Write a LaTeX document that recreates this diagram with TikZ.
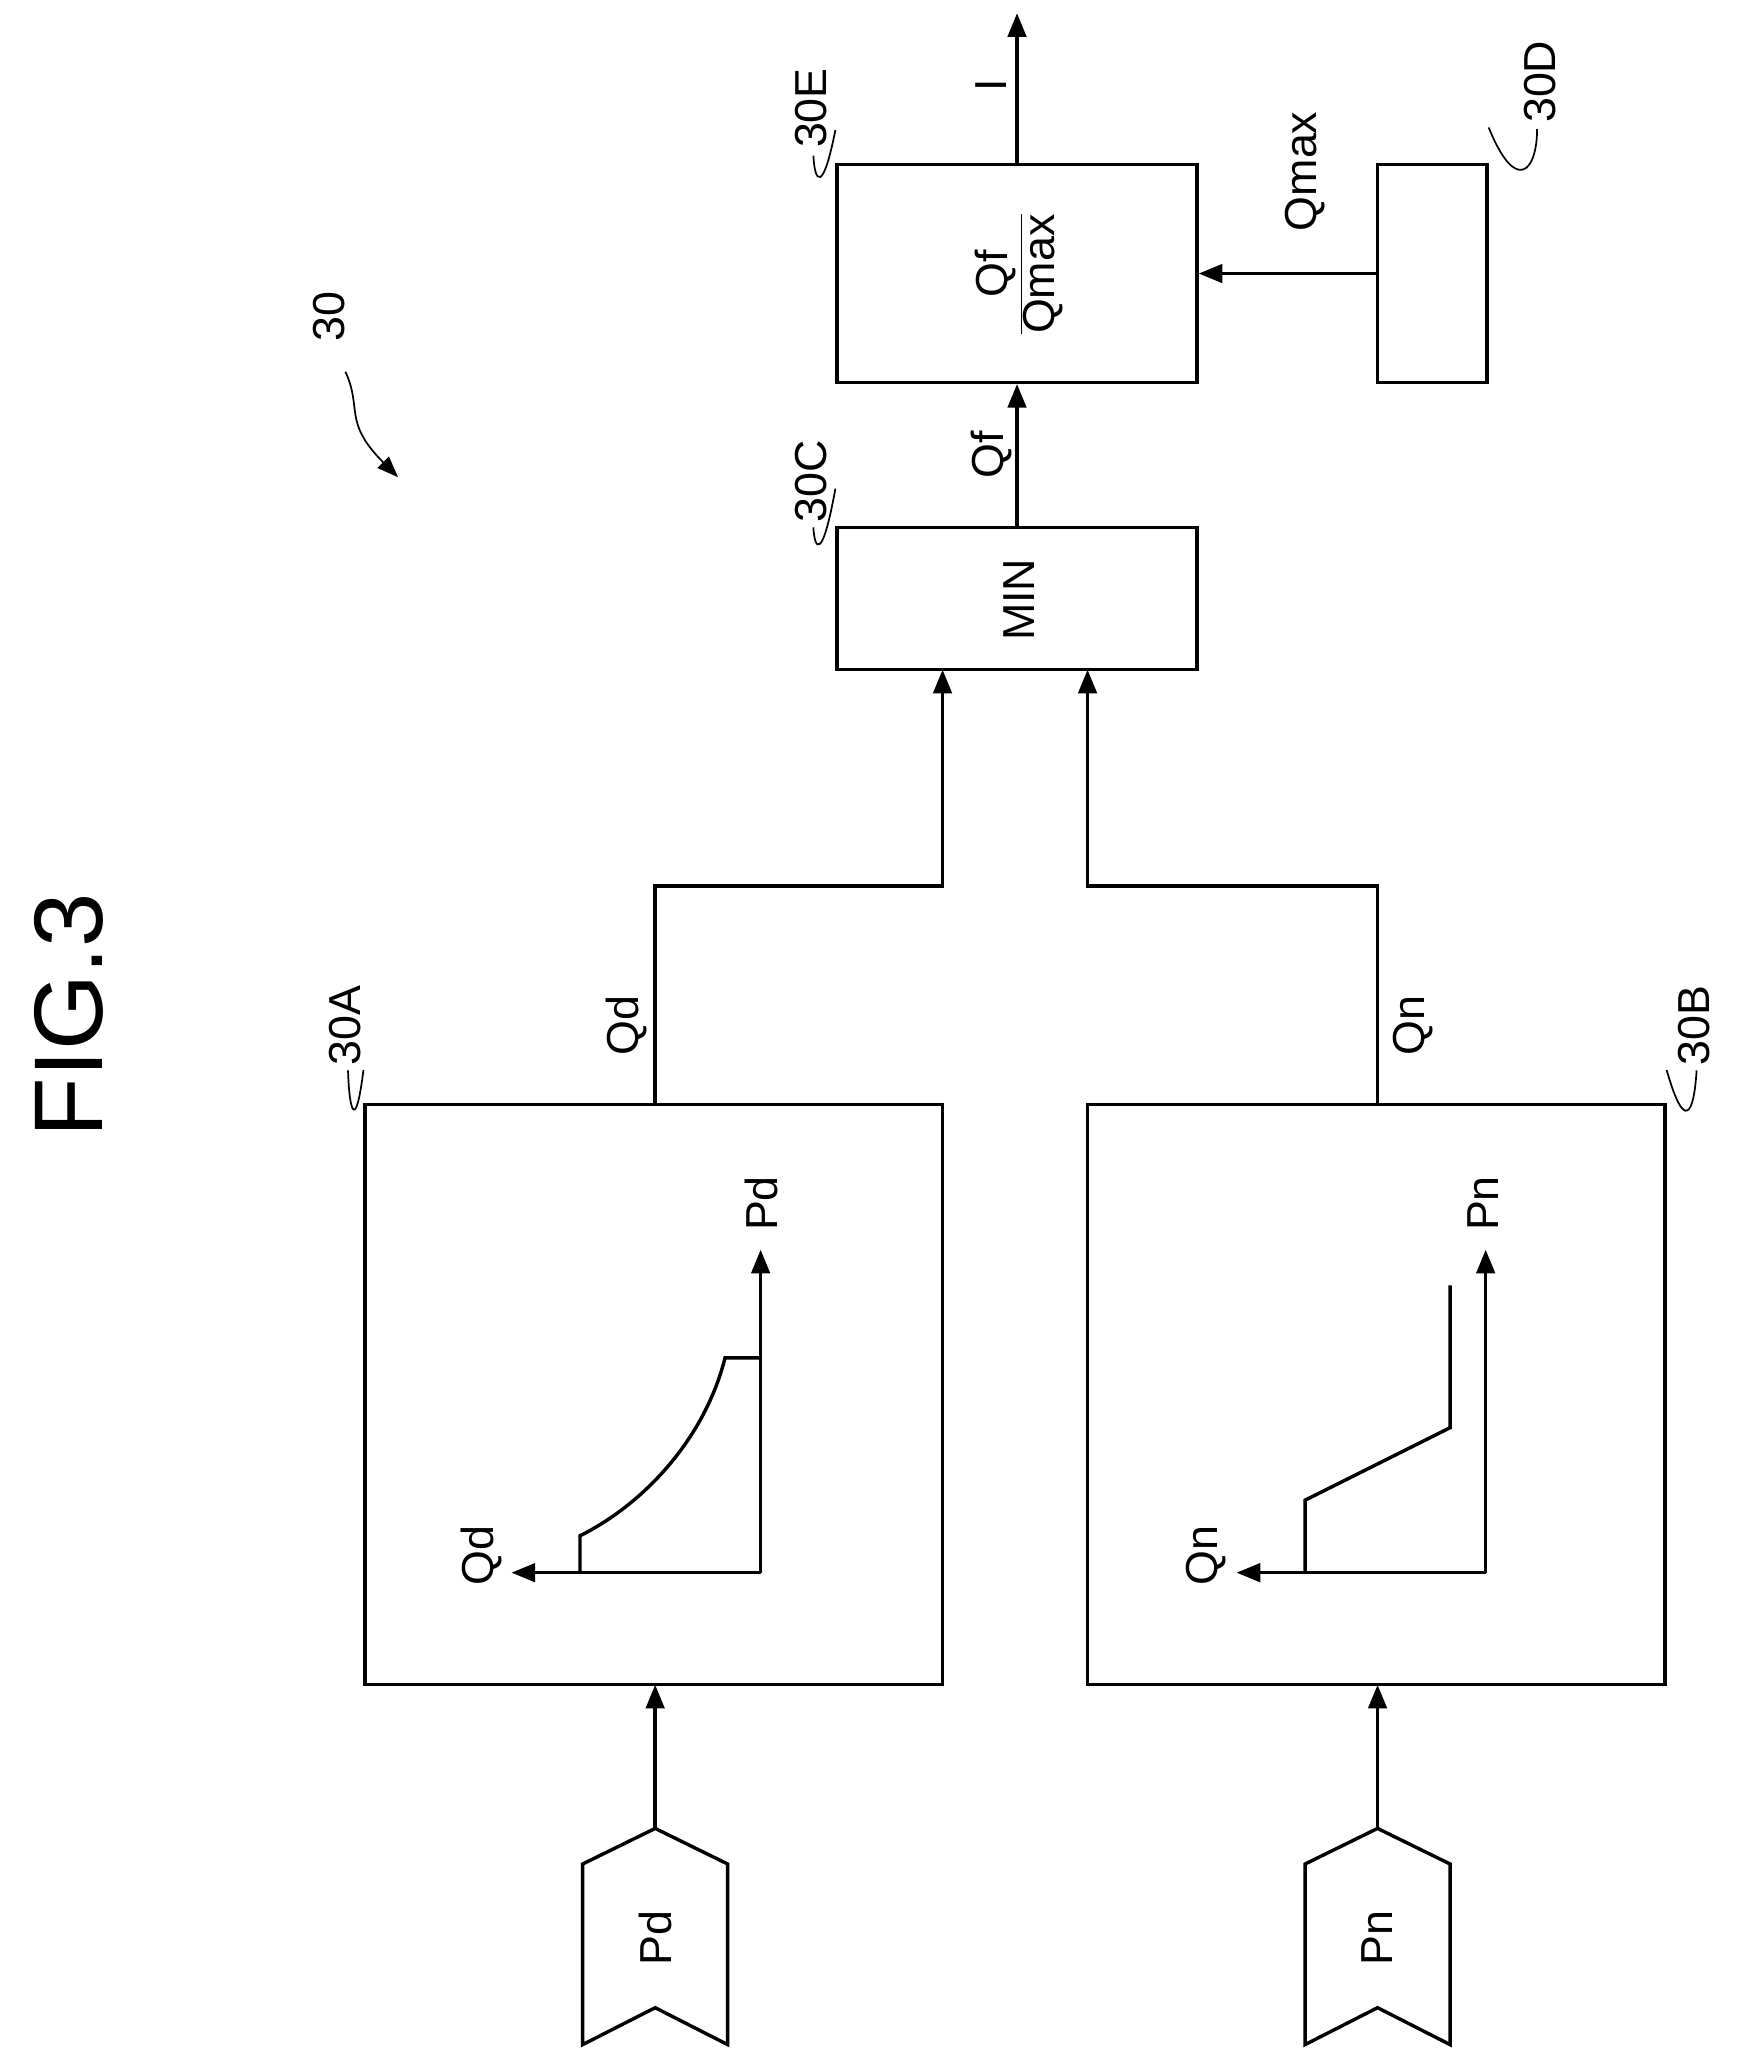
\documentclass[tikz,border=0pt]{standalone}
\usepackage{fontspec}
\setmainfont{Liberation Sans}
\usetikzlibrary{arrows.meta}
\begin{document}
\begin{tikzpicture}[x=1pt,y=-1pt,line width=2.6pt,
  box/.style={draw,line width=2.6pt},
  lab/.style={rotate=90,font=\fontsize{34}{36}\selectfont,inner sep=0pt},
  arr/.style={-{Triangle[length=18pt,width=14pt]}},
  lead/.style={line width=1.3pt}]
\useasboundingbox (0,0) rectangle (1324,1568);
\node[rotate=90,font=\fontsize{74}{76}\selectfont,inner sep=0pt] (fig) at (52,770) {FIG.3};
\node[lab] (n30) at (250,240) {30};
\coordinate (t30) at (302,362);
\draw[lead,-{Triangle[length=16pt,width=12pt]}] (262,282) .. controls (275,310) and (260,320) .. (t30);
% boxes
\node[box,minimum width=438pt,minimum height=440pt] (A) at (496,1058) {};
\node[box,minimum width=438pt,minimum height=440pt] (B) at (1044,1058) {};
\node[box,minimum width=273pt,minimum height=108pt] (C) at (771.5,454) {};
\node[box,minimum width=273pt,minimum height=165pt] (E) at (771.5,207.5) {};
\node[box,minimum width=83pt,minimum height=165pt] (D) at (1086.5,207.5) {};
\node[lab] (mint) at (773,455) {MIN};
\node[lab] (frac) at (773,208) {$\displaystyle\frac{\mbox{Qf}}{\mbox{Qmax}}$};
% ref labels
\node[lab] (lA) at (262,778) {30A};
\node[lab] (lB) at (1285,778) {30B};
\node[lab] (lC) at (615,365) {30C};
\node[lab] (lE) at (615,82) {30E};
\node[lab] (lD) at (1168,62) {30D};
\draw[lead] (264,812) .. controls (265,845) and (270,858) .. ([yshift=25pt]A.north west);
\draw[lead] (1287,812) .. controls (1285,845) and (1278,860) .. ([yshift=25pt]B.north east);
\draw[lead] (617,400) .. controls (618,418) and (624,425) .. ([yshift=28pt]C.north west);
\draw[lead] (617,118) .. controls (618,138) and (624,148) .. ([yshift=25pt]E.north west);
\draw[lead] (1166,98) .. controls (1166,130) and (1150,148) .. ([yshift=27pt]D.north east);
% connectors top
\coordinate (Itop) at (771.5,10);
\draw[arr] (E.north) -- (Itop);
\node[lab] (lI) at (752,65) {I};
\draw[arr] (C.north) -- (E.south);
\node[lab] (lQf) at (752,345) {Qf};
\draw[arr] (D.west) -- (E.east);
\node[lab] (lQm) at (990,130) {Qmax};
\coordinate (a1) at (497,838); \coordinate (a2) at (497,672); \coordinate (a3) at (715,672); \coordinate (a4) at (715,508);
\draw[arr] (a1) -- (a2) -- (a3) -- (a4);
\coordinate (b1) at (1045,838); \coordinate (b2) at (1045,672); \coordinate (b3) at (825,672); \coordinate (b4) at (825,508);
\draw[arr] (b1) -- (b2) -- (b3) -- (b4);
\node[lab] (lQd) at (475,778) {Qd};
\node[lab] (lQn) at (1072,778) {Qn};
% inputs
\draw (442,1414) -- (497,1387) -- (552,1414) -- (552,1551) -- (497,1523) -- (442,1551) -- cycle;
\draw (990,1414) -- (1045,1387) -- (1100,1414) -- (1100,1551) -- (1045,1523) -- (990,1551) -- cycle;
\coordinate (pdin) at (497,1387); \coordinate (pnin) at (1045,1387);
\node[lab] (lPd) at (497,1470) {Pd};
\node[lab] (lPn) at (1045,1470) {Pn};
\draw[arr] (pdin) -- (497,1278);
\draw[arr] (pnin) -- (1045,1278);
% graph A
\coordinate (oA) at (577,1193);
\draw[arr] (oA) -- (577,948);
\draw[arr] (oA) -- (388,1193);
\node[lab] (gPd) at (578,913) {Pd};
\node[lab] (gQd) at (365,1180) {Qd};
\draw (440,1193) -- (440,1165) .. controls (490,1140) and (535,1090) .. (550,1030) -- (577,1030);
% graph B
\coordinate (oB) at (1127,1193);
\draw[arr] (oB) -- (1127,948);
\draw[arr] (oB) -- (938,1193);
\node[lab] (gPn) at (1125,913) {Pn};
\node[lab] (gQn) at (915,1180) {Qn};
\draw (990,1193) -- (990,1138) -- (1100,1083) -- (1100,975);
\end{tikzpicture}
\end{document}
